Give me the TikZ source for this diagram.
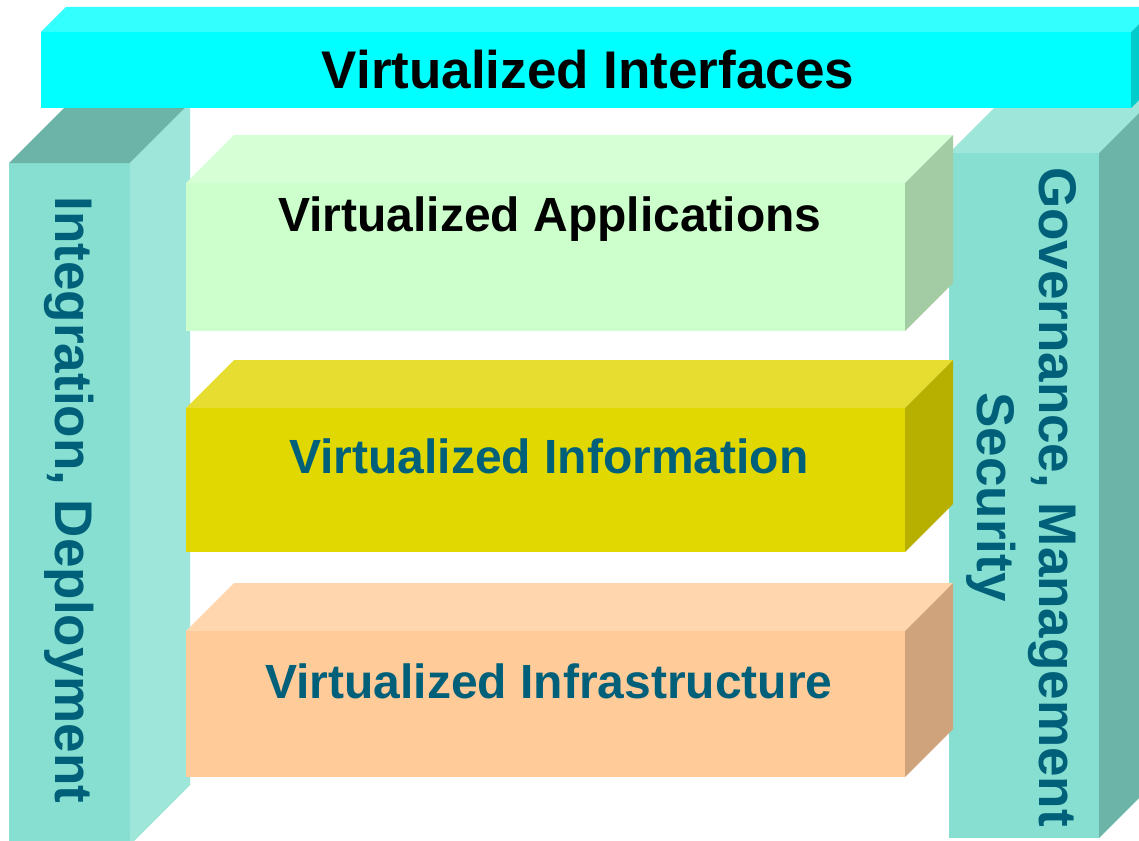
\documentclass[tikz,border=0pt]{standalone}
\usepackage{fontspec}
\setmainfont{Liberation Sans}
\usetikzlibrary{calc}

\definecolor{cyanfront}{HTML}{00FFFF}
\definecolor{cyantop}{HTML}{33FFFF}
\definecolor{cyanside}{HTML}{00CCCC}
\definecolor{tealfront}{HTML}{86DFD0}
\definecolor{tealdark}{HTML}{6BB4A7}
\definecolor{teallight}{HTML}{9EE6D9}
\definecolor{greenfront}{HTML}{CCFFCC}
\definecolor{greentop}{HTML}{D6FFD6}
\definecolor{greenside}{HTML}{A4CCA4}
\definecolor{yellowfront}{HTML}{E0D800}
\definecolor{yellowtop}{HTML}{E7DD30}
\definecolor{yellowside}{HTML}{B8B000}
\definecolor{orangefront}{HTML}{FFCC99}
\definecolor{orangetop}{HTML}{FFD6AD}
\definecolor{orangeside}{HTML}{CFA47C}
\definecolor{labelteal}{HTML}{00607A}

% a block seen from the front, with its top face and right face
% #1,#2 top-left of front face; #3,#4 bottom-right; #5 depth;
% #6 front colour, #7 top colour, #8 side colour
\newcommand\slabblock[8]{%
  \fill[#6] (#1,#2) rectangle (#3,#4);
  \fill[#7] (#1,#2) -- ++(#5,-#5) -- ++({#3-#1},0) -- (#3,#2) -- cycle;
  \fill[#8] (#3,#2) -- ++(#5,-#5) -- ++(0,{#4-#2}) -- (#3,#4) -- cycle;
}

\tikzset{
  bigtext/.style={font=\bfseries\fontsize{53}{62}\selectfont, inner sep=0pt},
  layertext/.style={font=\bfseries\fontsize{48}{56}\selectfont, inner sep=0pt, anchor=base},
}

\begin{document}
\begin{tikzpicture}[x=1pt, y=-1pt]
  \useasboundingbox (0,0) rectangle (1139,840);
  \clip (0,0) rectangle (1139,840);
  \fill[white] (0,0) rectangle (1139,840);

  % side pillars
  \slabblock{9}{163}{130}{845}{60}{tealfront}{tealdark}{teallight}
  \slabblock{949}{153}{1099}{838}{60}{tealfront}{teallight}{tealdark}

  % stacked layers
  \slabblock{186}{183}{905}{331}{48}{greenfront}{greentop}{greenside}
  \slabblock{186}{408}{905}{552}{48}{yellowfront}{yellowtop}{yellowside}
  \slabblock{186}{631}{905}{777}{48}{orangefront}{orangetop}{orangeside}

  % top bar
  \slabblock{41}{32}{1131}{108}{25}{cyanfront}{cyantop}{cyanside}

  % labels
  \node[bigtext, anchor=base, text=black] (interfaces) at (588,89) {Virtualized Interfaces};
  \node[layertext, text=black] (applications) at (550,231) {Virtualized Applications};
  \node[layertext, text=labelteal] (information) at (549,473) {Virtualized Information};
  \node[layertext, text=labelteal] (infrastructure) at (549,698) {Virtualized Infrastructure};
  \node[bigtext, text=labelteal, rotate=-90, anchor=base] (integration) at (55,500) {Integration, Deployment};
  \node[bigtext, text=labelteal, rotate=-90, align=center] (governance) at (1021,497) {Governance, Management\\Security};
\end{tikzpicture}
\end{document}
